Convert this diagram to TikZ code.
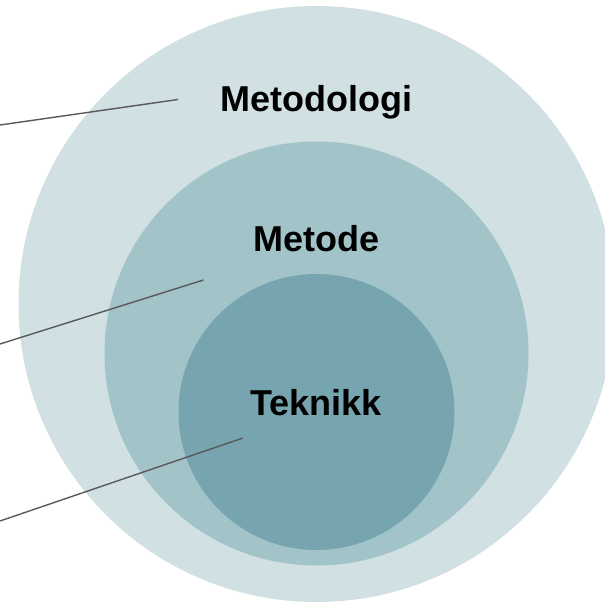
\documentclass[tikz,border=0pt]{standalone}
\usepackage{fontspec}
\setmainfont{Liberation Sans}
\usetikzlibrary{positioning}
\definecolor{cyanpale}{HTML}{D0E0E3}
\definecolor{cyanmid}{HTML}{A2C4C9}
\definecolor{cyandeep}{HTML}{76A5AF}
\definecolor{leader}{HTML}{595959}
\tikzset{
  ring/.style={circle,fill=#1,draw=none,inner sep=0pt},
  ring/.default=cyanpale,
  label text/.style={font=\fontsize{36}{40}\selectfont\bfseries,text=black,anchor=base,inner sep=0pt},
  pointer/.style={draw=leader,line width=1.4pt},
}
\begin{document}
\begin{tikzpicture}[x=1pt,y=-1pt]
  \useasboundingbox (0,0) rectangle (605,604);
  % nested circles
  \node[ring=cyanpale,minimum size=596pt] (outer) at (316.5,304) {};
  \node[ring=cyanmid,minimum size=424pt] (middle) at (316.5,353.5) {};
  \node[ring=cyandeep,minimum size=276pt] (inner) at (316.5,412) {};
  % labels
  \node[label text] (metodologi) at (316,111.5) {Metodologi};
  \node[label text] (metode) at (316.5,251.5) {Metode};
  \node[label text] (teknikk) at (316,415) {Teknikk};
  % leader lines
  \coordinate (a1) at (0,125);
  \coordinate (b1) at (178,99.5);
  \coordinate (a2) at (0,344);
  \coordinate (b2) at (203.5,280);
  \coordinate (a3) at (0,521);
  \coordinate (b3) at (243,438);
  \draw[pointer] (a1) -- (b1);
  \draw[pointer] (a2) -- (b2);
  \draw[pointer] (a3) -- (b3);
\end{tikzpicture}
\end{document}
